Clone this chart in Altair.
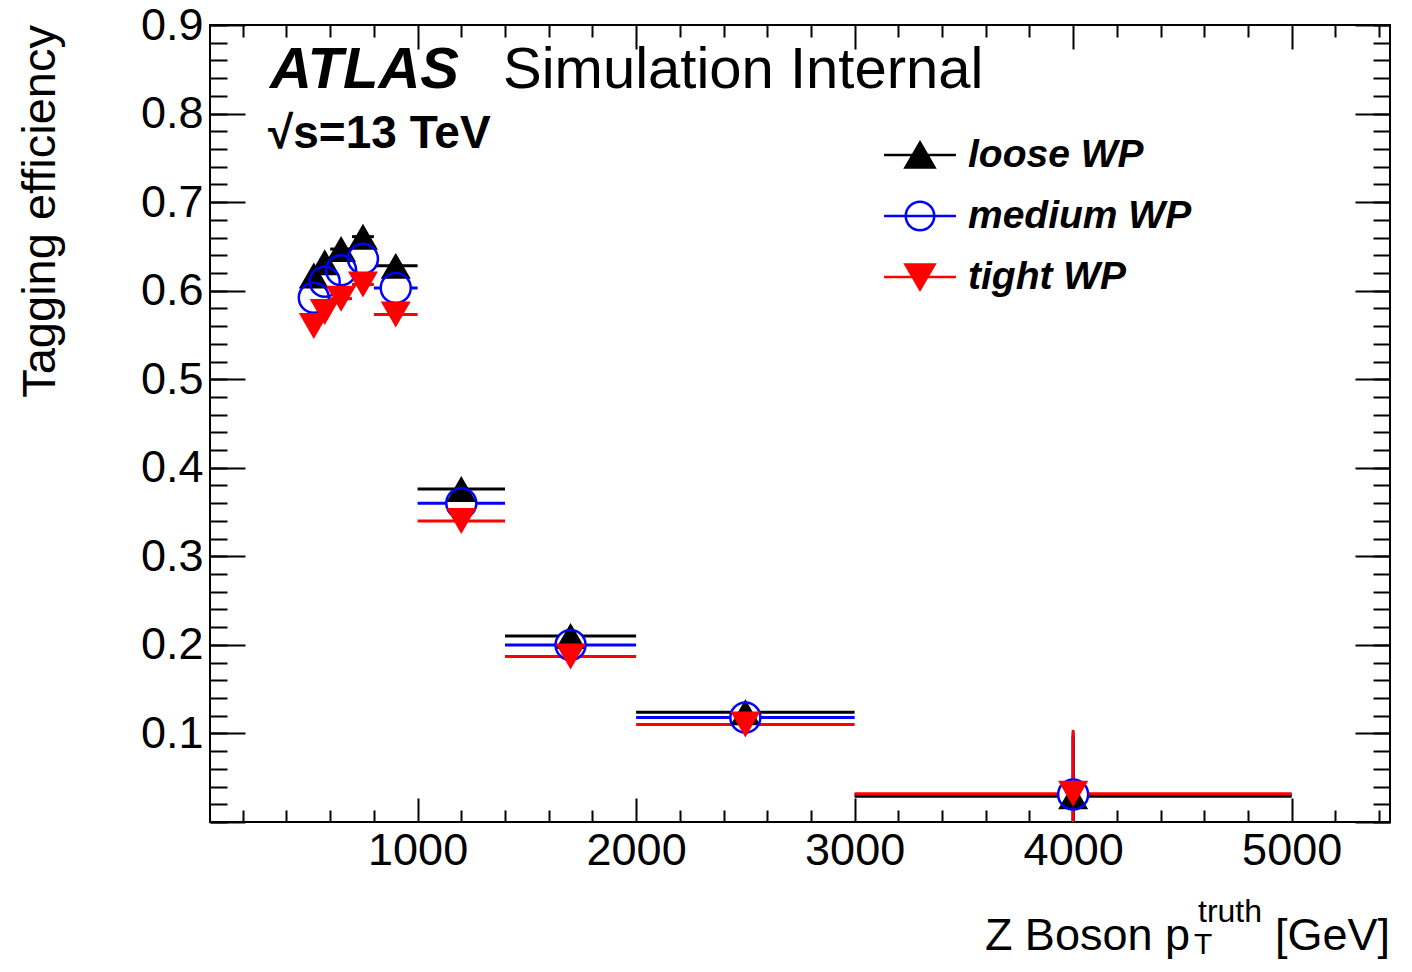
import altair as alt
import pandas as pd

# ---------------- data ----------------
bin_lo = [500, 550, 600, 700, 800, 1000, 1400, 2000, 3000]
bin_hi = [550, 600, 700, 800, 1000, 1400, 2000, 3000, 5000]
bin_center = [525, 575, 650, 750, 900, 1200, 1700, 2500, 4000]

loose_eff = [0.617, 0.632, 0.647, 0.661, 0.628, 0.376, 0.210, 0.124, 0.029]
medium_eff = [0.592, 0.610, 0.623, 0.636, 0.603, 0.360, 0.200, 0.118, 0.031]
tight_eff = [0.560, 0.576, 0.591, 0.607, 0.573, 0.340, 0.187, 0.110, 0.032]

loose_err = [0.004, 0.004, 0.004, 0.004, 0.004, 0.003, 0.003, 0.003, 0.068]
medium_err = [0.004, 0.004, 0.004, 0.004, 0.004, 0.003, 0.003, 0.003, 0.070]
tight_err = [0.004, 0.004, 0.004, 0.004, 0.004, 0.003, 0.003, 0.003, 0.072]

series_names = ["loose WP", "medium WP", "tight WP"]
series_colors = ["black", "#0000ff", "#ff0000"]

x_major = [1000, 2000, 3000, 4000, 5000]
x_minor = [200, 400, 600, 800, 1200, 1400, 1600, 1800, 2200, 2400, 2600, 2800,
           3200, 3400, 3600, 3800, 4200, 4400, 4600, 4800, 5200, 5400]
y_labels = [0.1, 0.2, 0.3, 0.4, 0.5, 0.6, 0.7, 0.8, 0.9]
y_major = [0.0, 0.1, 0.2, 0.3, 0.4, 0.5, 0.6, 0.7, 0.8, 0.9]
y_minor = [round(0.02 * i, 2) for i in range(46)]

FONT = "Liberation Sans"
W, H = 1180, 797


def series_df(name, eff, err):
    return pd.DataFrame({
        "wp": name,
        "x": bin_center,
        "xlo": bin_lo,
        "xhi": bin_hi,
        "y": eff,
        "ylo": [e - d for e, d in zip(eff, err)],
        "yhi": [e + d for e, d in zip(eff, err)],
    })


df_loose = series_df(series_names[0], loose_eff, loose_err)
df_medium = series_df(series_names[1], medium_eff, medium_err)
df_tight = series_df(series_names[2], tight_eff, tight_err)
df_all = pd.concat([df_loose, df_medium, df_tight], ignore_index=True)

xs = alt.Scale(domain=[50, 5450], nice=False, zero=False)
ys = alt.Scale(domain=[0, 0.9], nice=False, zero=False)


def X(axis=None):
    return alt.X("x:Q", scale=xs, axis=axis, title=None)


def Y(axis=None):
    return alt.Y("y:Q", scale=ys, axis=axis, title=None)


# ---------------- error bars ----------------
def xerr(df, color):
    return alt.Chart(df).mark_rule(color=color, strokeWidth=3, clip=True).encode(
        x=alt.X("xlo:Q", scale=xs, axis=None, title=None),
        x2="xhi:Q",
        y=Y(),
    )


def yerr(df, color):
    return alt.Chart(df).mark_rule(color=color, strokeWidth=3, clip=True).encode(
        x=X(),
        y=alt.Y("ylo:Q", scale=ys, axis=None, title=None),
        y2="yhi:Q",
    )


err_layers = []
for d, c in zip([df_loose, df_medium, df_tight], series_colors):
    err_layers += [xerr(d, c), yerr(d, c)]

# ---------------- markers ----------------
mk_size = 900
white_disc = alt.Chart(df_medium).mark_point(
    shape="circle", filled=True, color="white", size=mk_size, opacity=1
).encode(x=X(), y=Y())
loose_pts = alt.Chart(df_loose).mark_point(
    shape="triangle-up", filled=True, color="black", size=mk_size, opacity=1
).encode(x=X(), y=Y())
medium_pts = alt.Chart(df_medium).mark_point(
    shape="circle", filled=False, color="#0000ff", strokeWidth=2.5, size=mk_size, opacity=1
).encode(x=X(), y=Y())
tight_pts = alt.Chart(df_tight).mark_point(
    shape="triangle-down", filled=True, color="#ff0000", size=mk_size, opacity=1
).encode(x=X(), y=Y())

# ---------------- axes (ROOT style: inward ticks on all four sides) ----------------
def axis_layer(xaxis, yaxis):
    return alt.Chart(df_all).mark_point(opacity=0).encode(x=X(xaxis), y=Y(yaxis))


common = dict(grid=False, domain=False, title=None)
tick_common = dict(labels=False, tickColor="black", **common)

label_axes = axis_layer(
    alt.Axis(orient="bottom", values=x_major, ticks=False, labelFont=FONT, labelFontSize=45,
             labelColor="black", labelPadding=6, format="d", labelFlush=False, **common),
    alt.Axis(orient="left", values=y_labels, ticks=False, labelFont=FONT, labelFontSize=45,
             labelColor="black", labelPadding=7, format=".1f", **common),
)
ticks_bl_major = axis_layer(
    alt.Axis(orient="top", offset=-H, values=x_major, tickSize=24, tickWidth=2, **tick_common),
    alt.Axis(orient="right", offset=-W, values=y_major, tickSize=35, tickWidth=2, **tick_common),
)
ticks_bl_minor = axis_layer(
    alt.Axis(orient="top", offset=-H, values=x_minor, tickSize=12, tickWidth=2, **tick_common),
    alt.Axis(orient="right", offset=-W, values=y_minor, tickSize=17, tickWidth=2, **tick_common),
)
ticks_tr_major = axis_layer(
    alt.Axis(orient="bottom", offset=-H, values=x_major, tickSize=24, tickWidth=2, **tick_common),
    alt.Axis(orient="left", offset=-W, values=y_major, tickSize=35, tickWidth=2, **tick_common),
)
ticks_tr_minor = axis_layer(
    alt.Axis(orient="bottom", offset=-H, values=x_minor, tickSize=12, tickWidth=2, **tick_common),
    alt.Axis(orient="left", offset=-W, values=y_minor, tickSize=17, tickWidth=2, **tick_common),
)

# ---------------- texts ----------------
def text(label, x, y, size, weight="normal", style="normal", align="left", angle=0):
    return alt.Chart(pd.DataFrame({"t": [label]})).mark_text(
        font=FONT, fontSize=size, fontWeight=weight, fontStyle=style, align=align,
        baseline="alphabetic", color="black", angle=angle
    ).encode(x=alt.value(x), y=alt.value(y), text="t:N")


texts = [
    text("ATLAS", 60, 63, 58, weight="bold", style="italic"),
    text("Simulation Internal", 293, 63, 58),
    text("√s=13 TeV", 58, 123, 46, weight="bold"),
    text("Z Boson p", 980, 925, 45, align="right"),
    text("truth", 988, 897, 32),
    text("T", 984, 929, 30),
    text("[GeV]", 1180, 925, 45, align="right"),
    text("Tagging efficiency", -155, 0, 47, align="right", angle=270),
]

# ---------------- legend ----------------
legend_paths = [
    "M-1.26,0H1.26M0,-0.44L0.51,0.44L-0.51,0.44Z",
    "M-1.26,0H1.26M0.5,0A0.5,0.5,0,1,1,-0.5,0A0.5,0.5,0,1,1,0.5,0Z",
    "M-1.26,0H1.26M0,0.44L0.51,-0.44L-0.51,-0.44Z",
]
leg = alt.Legend(
    orient="none", legendX=680, legendY=100, title=None, symbolSize=3249,
    symbolStrokeWidth=2.5, labelFont=FONT, labelFontSize=39, labelFontWeight="bold",
    labelFontStyle="italic", labelColor="black", labelOffset=18, labelLimit=400,
    rowPadding=11, padding=0, symbolOffset=0, direction="vertical",
)
legend_layer = alt.Chart(pd.DataFrame({"wp": series_names})).transform_filter("false").mark_point(
    strokeWidth=2.5, opacity=1
).encode(
    shape=alt.Shape("wp:N", scale=alt.Scale(domain=series_names, range=legend_paths), legend=leg),
    stroke=alt.Stroke("wp:N", scale=alt.Scale(domain=series_names, range=series_colors), legend=leg),
    fill=alt.Fill("wp:N", scale=alt.Scale(domain=series_names, range=["black", "transparent", "#ff0000"]), legend=leg),
)

chart = alt.layer(
    label_axes, ticks_bl_major, ticks_bl_minor, ticks_tr_major, ticks_tr_minor,
    *err_layers, white_disc, loose_pts, medium_pts, tight_pts,
    *texts, legend_layer,
).resolve_axis(x="independent", y="independent").properties(
    width=W, height=H,
    padding={"left": 202, "top": 17, "right": 14, "bottom": 140},
    autosize=alt.AutoSizeParams(type="none"),
).configure_view(stroke="black", strokeWidth=2)

chart.save("out.html", embed_options={"renderer": "svg", "actions": False})
